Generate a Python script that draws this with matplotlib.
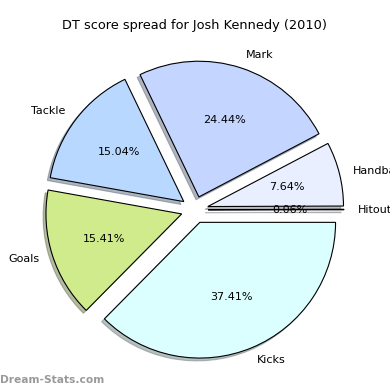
import matplotlib
matplotlib.use('Agg')
import matplotlib.pyplot as plt

# DT score spread data
labels = ['Hitout', 'Handball', 'Mark', 'Tackle', 'Goals', 'Kicks']
shares = [0.06, 7.64, 24.44, 15.04, 15.41, 37.41]
colors = ['#f0f4ff', '#e9effe', '#c4d6ff', '#b8d8ff', '#d0eb8c', '#dbffff']
explode = [0.1] * len(labels)

fig = plt.figure(figsize=(3.9, 3.9), dpi=100)
ax = fig.add_axes([0.064, 0.027, 0.87, 0.87])

ax.pie(shares, labels=labels, colors=colors, explode=explode,
       autopct='%1.2f%%', shadow={'ox': -0.015, 'oy': -0.015, 'shade': 0.5},
       startangle=0,
       wedgeprops={'edgecolor': 'black', 'linewidth': 0.8},
       textprops={'fontsize': 8})
ax.set_xlim(-1.25, 1.25)
ax.set_ylim(-1.25, 1.25)
ax.set_aspect('equal')

fig.text(0.5, 0.935, 'DT score spread for Josh Kennedy (2010)',
         ha='center', va='center', fontsize=9.3)
fig.text(0.0, 0.025, 'Dream-Stats.com', ha='left', va='center',
         fontsize=7.7, fontweight='bold', color='#9a9a9a')

fig.savefig('out.png', dpi=100)
